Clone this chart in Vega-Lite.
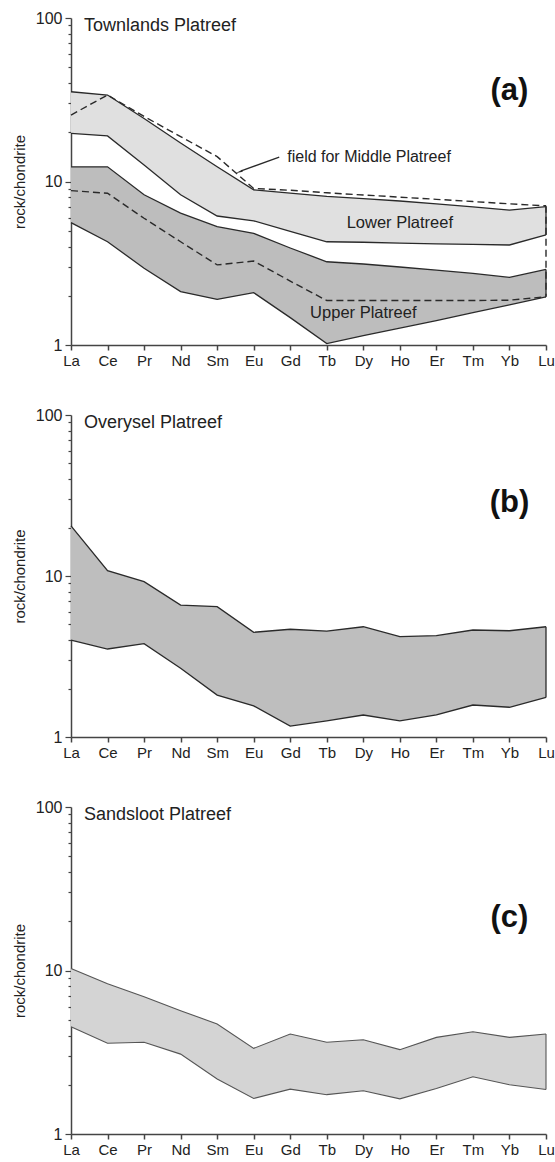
{
  "$schema": "https://vega.github.io/schema/vega-lite/v6.json",
  "background": "white",
  "padding": {"left": 12, "top": 10, "right": 3, "bottom": 3},
  "bounds": "flush",
  "spacing": 70,
  "config": {
    "font": "Liberation Sans",
    "view": {"stroke": null},
    "axisX": {"domainColor": "#444", "domainWidth": 1.5, "tickColor": "#444", "tickWidth": 1.5, "tickSize": 5, "labelFontSize": 15, "labelColor": "#222", "labelPadding": 3, "grid": false, "labelAngle": 0},
    "axisY": {"domainColor": "#444", "domainWidth": 1.5, "tickColor": "#444", "tickWidth": 1.2, "labelFontSize": 16, "labelColor": "#222", "labelPadding": 3, "grid": false, "titleFontSize": 15, "titleFontWeight": "normal", "titleColor": "#222", "titlePadding": 8, "labelOverlap": false},
    "text": {"color": "#222"}
  },
  "datasets": {
    "a": [
      {"el": "La", "low_hi": 35.4, "low_lo": 19.7, "up_hi": 12.3, "up_lo": 5.6, "mid_hi": 25.5, "mid_lo": 8.8},
      {"el": "Ce", "low_hi": 33.8, "low_lo": 19.0, "up_hi": 12.3, "up_lo": 4.28, "mid_hi": 33.8, "mid_lo": 8.47},
      {"el": "Pr", "low_hi": 24.3, "low_lo": 12.6, "up_hi": 8.3, "up_lo": 2.95, "mid_hi": 25.0, "mid_lo": 5.96},
      {"el": "Nd", "low_hi": 17.2, "low_lo": 8.3, "up_hi": 6.4, "up_lo": 2.12, "mid_hi": 18.8, "mid_lo": 4.28},
      {"el": "Sm", "low_hi": 12.3, "low_lo": 6.15, "up_hi": 5.29, "up_lo": 1.9, "mid_hi": 14.2, "mid_lo": 3.09},
      {"el": "Eu", "low_hi": 8.9, "low_lo": 5.75, "up_hi": 4.82, "up_lo": 2.09, "mid_hi": 9.07, "mid_lo": 3.26},
      {"el": "Gd", "low_hi": 8.5, "low_lo": 4.95, "up_hi": 3.92, "up_lo": 1.47, "mid_hi": 8.84, "mid_lo": 2.46},
      {"el": "Tb", "low_hi": 8.1, "low_lo": 4.28, "up_hi": 3.23, "up_lo": 1.02, "mid_hi": 8.53, "mid_lo": 1.87},
      {"el": "Dy", "low_hi": 7.85, "low_lo": 4.25, "up_hi": 3.13, "up_lo": 1.14, "mid_hi": 8.27, "mid_lo": 1.87},
      {"el": "Ho", "low_hi": 7.6, "low_lo": 4.2, "up_hi": 3.0, "up_lo": 1.27, "mid_hi": 8.02, "mid_lo": 1.87},
      {"el": "Er", "low_hi": 7.3, "low_lo": 4.15, "up_hi": 2.87, "up_lo": 1.41, "mid_hi": 7.78, "mid_lo": 1.87},
      {"el": "Tm", "low_hi": 7.0, "low_lo": 4.12, "up_hi": 2.74, "up_lo": 1.58, "mid_hi": 7.54, "mid_lo": 1.87},
      {"el": "Yb", "low_hi": 6.69, "low_lo": 4.09, "up_hi": 2.59, "up_lo": 1.76, "mid_hi": 7.3, "mid_lo": 1.88},
      {"el": "Lu", "low_hi": 7.01, "low_lo": 4.71, "up_hi": 2.9, "up_lo": 1.97, "mid_hi": 7.1, "mid_lo": 1.97}
    ],
    "b": [
      {"el": "La", "hi": 20.5, "lo": 4.0},
      {"el": "Ce", "hi": 10.8, "lo": 3.52},
      {"el": "Pr", "hi": 9.22, "lo": 3.8},
      {"el": "Nd", "hi": 6.6, "lo": 2.67},
      {"el": "Sm", "hi": 6.45, "lo": 1.82},
      {"el": "Eu", "hi": 4.47, "lo": 1.56},
      {"el": "Gd", "hi": 4.67, "lo": 1.17},
      {"el": "Tb", "hi": 4.55, "lo": 1.26},
      {"el": "Dy", "hi": 4.84, "lo": 1.37},
      {"el": "Ho", "hi": 4.2, "lo": 1.26},
      {"el": "Er", "hi": 4.26, "lo": 1.37},
      {"el": "Tm", "hi": 4.62, "lo": 1.58},
      {"el": "Yb", "hi": 4.57, "lo": 1.53},
      {"el": "Lu", "hi": 4.84, "lo": 1.76}
    ],
    "c": [
      {"el": "La", "hi": 10.3, "lo": 4.53},
      {"el": "Ce", "hi": 8.3, "lo": 3.59},
      {"el": "Pr", "hi": 6.9, "lo": 3.64},
      {"el": "Nd", "hi": 5.68, "lo": 3.08},
      {"el": "Sm", "hi": 4.71, "lo": 2.17},
      {"el": "Eu", "hi": 3.34, "lo": 1.65},
      {"el": "Gd", "hi": 4.09, "lo": 1.88},
      {"el": "Tb", "hi": 3.64, "lo": 1.74},
      {"el": "Dy", "hi": 3.77, "lo": 1.84},
      {"el": "Ho", "hi": 3.28, "lo": 1.64},
      {"el": "Er", "hi": 3.9, "lo": 1.9},
      {"el": "Tm", "hi": 4.22, "lo": 2.24},
      {"el": "Yb", "hi": 3.9, "lo": 2.0},
      {"el": "Lu", "hi": 4.09, "lo": 1.87}
    ]
  },
  "vconcat": [
    {
      "width": 475,
      "height": 327,
      "encoding": {
        "x": {"field": "el", "type": "nominal", "scale": {"type": "point", "padding": 0, "domain": ["La", "Ce", "Pr", "Nd", "Sm", "Eu", "Gd", "Tb", "Dy", "Ho", "Er", "Tm", "Yb", "Lu"]}, "axis": {"title": null}}
      },
      "layer": [
        {
          "data": {"name": "a"},
          "mark": {"type": "area", "color": "#e0e0e0"},
          "encoding": {
            "y": {"field": "low_hi", "type": "quantitative", "title": "rock/chondrite", "scale": {"type": "log", "domain": [1, 100]},
              "axis": {"title": "rock/chondrite", "values": [1, 2, 3, 4, 5, 6, 7, 8, 9, 10, 20, 30, 40, 50, 60, 70, 80, 90, 100],
                "labelExpr": "(datum.value == 1 || datum.value == 10 || datum.value == 100) ? format(datum.value, 'd') : ''",
                "tickSize": {"condition": {"test": "datum.value == 1 || datum.value == 10 || datum.value == 100", "value": 6}, "value": 3}}},
            "y2": {"field": "low_lo"}
          }
        },
        {
          "data": {"name": "a"},
          "mark": {"type": "area", "color": "#bdbdbd"},
          "encoding": {
            "y": {"field": "up_hi", "type": "quantitative", "title": "rock/chondrite", "scale": {"type": "log", "domain": [1, 100]}},
            "y2": {"field": "up_lo"}
          }
        },
        {
          "data": {"name": "a"},
          "transform": [{"fold": ["low_hi", "low_lo", "up_hi", "up_lo"], "as": ["key", "val"]}],
          "mark": {"type": "line", "color": "#2a2a2a", "strokeWidth": 1.3},
          "encoding": {
            "y": {"field": "val", "type": "quantitative", "title": "rock/chondrite", "scale": {"type": "log", "domain": [1, 100]}},
            "detail": {"field": "key"}
          }
        },
        {
          "data": {"name": "a"},
          "transform": [{"filter": "datum.el == 'Lu'"}],
          "mark": {"type": "rule", "color": "#2a2a2a", "strokeWidth": 1.3},
          "encoding": {
            "y": {"field": "low_hi", "type": "quantitative", "title": "rock/chondrite", "scale": {"type": "log", "domain": [1, 100]}},
            "y2": {"field": "low_lo"}
          }
        },
        {
          "data": {"name": "a"},
          "transform": [{"filter": "datum.el == 'Lu'"}],
          "mark": {"type": "rule", "color": "#2a2a2a", "strokeWidth": 1.3},
          "encoding": {
            "y": {"field": "up_hi", "type": "quantitative", "title": "rock/chondrite", "scale": {"type": "log", "domain": [1, 100]}},
            "y2": {"field": "up_lo"}
          }
        },
        {
          "data": {"name": "a"},
          "transform": [{"fold": ["mid_hi", "mid_lo"], "as": ["key", "val"]}],
          "mark": {"type": "line", "color": "#2a2a2a", "strokeWidth": 1.4, "strokeDash": [7, 4]},
          "encoding": {
            "y": {"field": "val", "type": "quantitative", "title": "rock/chondrite", "scale": {"type": "log", "domain": [1, 100]}},
            "detail": {"field": "key"}
          }
        },
        {
          "data": {"name": "a"},
          "transform": [{"filter": "datum.el == 'Lu'"}],
          "mark": {"type": "rule", "color": "#2a2a2a", "strokeWidth": 1.4, "strokeDash": [7, 4]},
          "encoding": {
            "y": {"field": "mid_hi", "type": "quantitative", "title": "rock/chondrite", "scale": {"type": "log", "domain": [1, 100]}},
            "y2": {"field": "mid_lo"}
          }
        },
        {
          "data": {"values": [{"el": "Gd", "el2": "Sm", "v": 14.1, "v2": 11.6}]},
          "mark": {"type": "rule", "color": "#2a2a2a", "strokeWidth": 1.3, "xOffset": -11, "x2Offset": 24},
          "encoding": {
            "x2": {"field": "el2"},
            "y": {"field": "v", "type": "quantitative", "title": "rock/chondrite", "scale": {"type": "log", "domain": [1, 100]}},
            "y2": {"field": "v2"}
          }
        },
        {
          "data": {"values": [{"el": "Sm", "v": 11.5}]},
          "mark": {"type": "point", "shape": "wedge", "filled": true, "color": "#2a2a2a", "size": 70, "angle": 251, "opacity": 1, "xOffset": 23},
          "encoding": {
            "y": {"field": "v", "type": "quantitative", "title": "rock/chondrite", "scale": {"type": "log", "domain": [1, 100]}}
          }
        },
        {
          "data": {"values": [{"el": "La", "v": 89, "txt": "Townlands Platreef"}]},
          "mark": {"type": "text", "align": "left", "baseline": "middle", "fontSize": 18, "dx": 13},
          "encoding": {
            "y": {"field": "v", "type": "quantitative", "title": "rock/chondrite", "scale": {"type": "log", "domain": [1, 100]}},
            "text": {"field": "txt"}
          }
        },
        {
          "data": {"values": [{"el": "Gd", "v": 14.2, "txt": "field for Middle Platreef"}]},
          "mark": {"type": "text", "align": "left", "baseline": "middle", "fontSize": 16, "dx": -3},
          "encoding": {
            "y": {"field": "v", "type": "quantitative", "title": "rock/chondrite", "scale": {"type": "log", "domain": [1, 100]}},
            "text": {"field": "txt"}
          }
        },
        {
          "data": {"values": [{"el": "Ho", "v": 5.6, "txt": "Lower Platreef"}, {"el": "Dy", "v": 1.57, "txt": "Upper Platreef"}]},
          "mark": {"type": "text", "align": "center", "baseline": "middle", "fontSize": 16.5},
          "encoding": {
            "y": {"field": "v", "type": "quantitative", "title": "rock/chondrite", "scale": {"type": "log", "domain": [1, 100]}},
            "text": {"field": "txt"}
          }
        },
        {
          "data": {"values": [{"el": "Yb", "v": 35.8, "txt": "(a)"}]},
          "mark": {"type": "text", "align": "center", "baseline": "middle", "fontSize": 31, "fontWeight": "bold", "color": "#111"},
          "encoding": {
            "y": {"field": "v", "type": "quantitative", "title": "rock/chondrite", "scale": {"type": "log", "domain": [1, 100]}},
            "text": {"field": "txt"}
          }
        }
      ]
    },
    {
      "width": 475,
      "height": 322,
      "encoding": {
        "x": {"field": "el", "type": "nominal", "scale": {"type": "point", "padding": 0, "domain": ["La", "Ce", "Pr", "Nd", "Sm", "Eu", "Gd", "Tb", "Dy", "Ho", "Er", "Tm", "Yb", "Lu"]}, "axis": {"title": null}}
      },
      "layer": [
        {
          "data": {"name": "b"},
          "mark": {"type": "area", "color": "#bebebe"},
          "encoding": {
            "y": {"field": "hi", "type": "quantitative", "title": "rock/chondrite", "scale": {"type": "log", "domain": [1, 100]},
              "axis": {"title": "rock/chondrite", "values": [1, 2, 3, 4, 5, 6, 7, 8, 9, 10, 20, 30, 40, 50, 60, 70, 80, 90, 100],
                "labelExpr": "(datum.value == 1 || datum.value == 10 || datum.value == 100) ? format(datum.value, 'd') : ''",
                "tickSize": {"condition": {"test": "datum.value == 1 || datum.value == 10 || datum.value == 100", "value": 6}, "value": 3}}},
            "y2": {"field": "lo"}
          }
        },
        {
          "data": {"name": "b"},
          "transform": [{"fold": ["hi", "lo"], "as": ["key", "val"]}],
          "mark": {"type": "line", "color": "#2a2a2a", "strokeWidth": 1.3},
          "encoding": {
            "y": {"field": "val", "type": "quantitative", "title": "rock/chondrite", "scale": {"type": "log", "domain": [1, 100]}},
            "detail": {"field": "key"}
          }
        },
        {
          "data": {"name": "b"},
          "transform": [{"filter": "datum.el == 'Lu'"}],
          "mark": {"type": "rule", "color": "#2a2a2a", "strokeWidth": 1.3},
          "encoding": {
            "y": {"field": "hi", "type": "quantitative", "title": "rock/chondrite", "scale": {"type": "log", "domain": [1, 100]}},
            "y2": {"field": "lo"}
          }
        },
        {
          "data": {"values": [{"el": "La", "v": 89, "txt": "Overysel Platreef"}]},
          "mark": {"type": "text", "align": "left", "baseline": "middle", "fontSize": 18, "dx": 13},
          "encoding": {
            "y": {"field": "v", "type": "quantitative", "title": "rock/chondrite", "scale": {"type": "log", "domain": [1, 100]}},
            "text": {"field": "txt"}
          }
        },
        {
          "data": {"values": [{"el": "Yb", "v": 28.6, "txt": "(b)"}]},
          "mark": {"type": "text", "align": "center", "baseline": "middle", "fontSize": 31, "fontWeight": "bold", "color": "#111"},
          "encoding": {
            "y": {"field": "v", "type": "quantitative", "title": "rock/chondrite", "scale": {"type": "log", "domain": [1, 100]}},
            "text": {"field": "txt"}
          }
        }
      ]
    },
    {
      "width": 475,
      "height": 327,
      "encoding": {
        "x": {"field": "el", "type": "nominal", "scale": {"type": "point", "padding": 0, "domain": ["La", "Ce", "Pr", "Nd", "Sm", "Eu", "Gd", "Tb", "Dy", "Ho", "Er", "Tm", "Yb", "Lu"]}, "axis": {"title": null}}
      },
      "layer": [
        {
          "data": {"name": "c"},
          "mark": {"type": "area", "color": "#d4d4d4"},
          "encoding": {
            "y": {"field": "hi", "type": "quantitative", "title": "rock/chondrite", "scale": {"type": "log", "domain": [1, 100]},
              "axis": {"title": "rock/chondrite", "values": [1, 2, 3, 4, 5, 6, 7, 8, 9, 10, 20, 30, 40, 50, 60, 70, 80, 90, 100],
                "labelExpr": "(datum.value == 1 || datum.value == 10 || datum.value == 100) ? format(datum.value, 'd') : ''",
                "tickSize": {"condition": {"test": "datum.value == 1 || datum.value == 10 || datum.value == 100", "value": 6}, "value": 3}}},
            "y2": {"field": "lo"}
          }
        },
        {
          "data": {"name": "c"},
          "transform": [{"fold": ["hi", "lo"], "as": ["key", "val"]}],
          "mark": {"type": "line", "color": "#555", "strokeWidth": 1.1},
          "encoding": {
            "y": {"field": "val", "type": "quantitative", "title": "rock/chondrite", "scale": {"type": "log", "domain": [1, 100]}},
            "detail": {"field": "key"}
          }
        },
        {
          "data": {"name": "c"},
          "transform": [{"filter": "datum.el == 'Lu'"}],
          "mark": {"type": "rule", "color": "#555", "strokeWidth": 1.1},
          "encoding": {
            "y": {"field": "hi", "type": "quantitative", "title": "rock/chondrite", "scale": {"type": "log", "domain": [1, 100]}},
            "y2": {"field": "lo"}
          }
        },
        {
          "data": {"values": [{"el": "La", "v": 89, "txt": "Sandsloot Platreef"}]},
          "mark": {"type": "text", "align": "left", "baseline": "middle", "fontSize": 18, "dx": 13},
          "encoding": {
            "y": {"field": "v", "type": "quantitative", "title": "rock/chondrite", "scale": {"type": "log", "domain": [1, 100]}},
            "text": {"field": "txt"}
          }
        },
        {
          "data": {"values": [{"el": "Yb", "v": 20.9, "txt": "(c)"}]},
          "mark": {"type": "text", "align": "center", "baseline": "middle", "fontSize": 31, "fontWeight": "bold", "color": "#111"},
          "encoding": {
            "y": {"field": "v", "type": "quantitative", "title": "rock/chondrite", "scale": {"type": "log", "domain": [1, 100]}},
            "text": {"field": "txt"}
          }
        }
      ]
    }
  ]
}
